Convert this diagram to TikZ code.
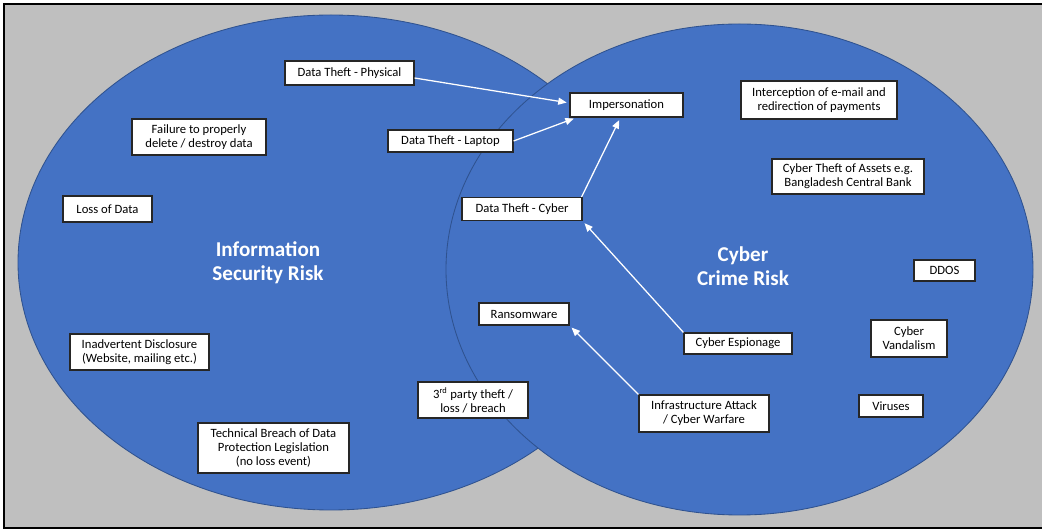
\documentclass[tikz,border=0pt]{standalone}
\usepackage{fontspec}
\setmainfont{Carlito}
\usepackage{tikz}
\usetikzlibrary{arrows.meta, positioning}
\definecolor{setblue}{HTML}{4472C4}
\definecolor{setline}{HTML}{2F528F}
\definecolor{framegray}{HTML}{BFBFBF}
\newcommand{\pxu}{0.025cm}

\begin{document}
\begin{tikzpicture}[x=0.025cm, y=-0.025cm,
    riskbox/.style={draw=black!85, line width=0.8pt, fill=white, align=center, inner sep=0pt, font=\fontsize{9}{9.8}\selectfont},
    setlabel/.style={text=white, align=center, font=\fontsize{15}{17}\selectfont\bfseries},
    link/.style={draw=white, line width=0.9pt, -{Triangle[length=6pt, width=5pt]}, shorten >=2pt}]
    \useasboundingbox (0,0) rectangle (1042,530);

    % Frame
    \fill[framegray] (4,4) rectangle (1042,528);
    \draw[black, line width=0.9pt] (1042,4) -- (4,4) -- (4,528) -- (1042,528);

    % Information security set
    \draw[setline, fill=setblue, line width=0.6pt] (331,262.5) ellipse (313 and 247.5);
    \node[setlabel] (infosec) at (268,263) {Information\\Security Risk};

    % Cyber crime set
    \draw[setline, fill=setblue, line width=0.6pt] (739.5,269.5) ellipse (293.5 and 245.5);
    \node[setlabel] (cybercrime) at (743,266) {Cyber\\Crime Risk};

    % Risks
    \node[riskbox, minimum width=129*\pxu, minimum height=24*\pxu] (physical) at (349.5,73) {Data Theft - Physical};
    \node[riskbox, minimum width=134*\pxu, minimum height=36*\pxu] (failure) at (199,137) {Failure to properly\\delete / destroy data};
    \node[riskbox, minimum width=125*\pxu, minimum height=22*\pxu] (laptop) at (450.5,141) {Data Theft - Laptop};
    \node[riskbox, minimum width=89*\pxu, minimum height=26*\pxu] (lossdata) at (107.5,209) {Loss of Data};
    \node[riskbox, minimum width=120*\pxu, minimum height=23*\pxu] (cybertheft) at (522,209) {Data Theft - Cyber};
    \node[riskbox, minimum width=113*\pxu, minimum height=24*\pxu] (imper) at (626.5,105) {Impersonation};
    \node[riskbox, minimum width=156*\pxu, minimum height=38*\pxu] (intercept) at (819,100) {Interception of e-mail and\\redirection of payments};
    \node[riskbox, minimum width=152*\pxu, minimum height=35*\pxu] (assets) at (848,176.5) {Cyber Theft of Assets e.g.\\Bangladesh Central Bank};
    \node[riskbox, minimum width=61*\pxu, minimum height=21*\pxu] (ddos) at (944.5,270.5) {DDOS};
    \node[riskbox, minimum width=90*\pxu, minimum height=22*\pxu] (ransom) at (524,314) {Ransomware};
    \node[riskbox, minimum width=108*\pxu, minimum height=21*\pxu] (espionage) at (738,343.5) {Cyber Espionage};
    \node[riskbox, minimum width=76*\pxu, minimum height=37*\pxu] (vandal) at (909,338.5) {Cyber\\Vandalism};
    \node[riskbox, minimum width=64*\pxu, minimum height=22*\pxu] (viruses) at (891,406) {Viruses};
    \node[riskbox, minimum width=130*\pxu, minimum height=37*\pxu] (infra) at (704,413.5) {Infrastructure Attack\\/ Cyber Warfare};
    \node[riskbox, minimum width=139*\pxu, minimum height=36*\pxu] (disclose) at (139.5,352) {Inadvertent Disclosure\\(Website, mailing etc.)};
    \node[riskbox, minimum width=110*\pxu, minimum height=36*\pxu] (thirdparty) at (473,400) {3\textsuperscript{rd} party theft /\\loss / breach};
    \node[riskbox, minimum width=151*\pxu, minimum height=50*\pxu] (technical) at (273.5,448) {Technical Breach of Data\\Protection Legislation\\(no loss event)};

    % Links
    \draw[link] ([yshift=-5*\pxu]physical.east) -- ([yshift=2*\pxu]imper.west);
    \draw[link] (laptop.east) -- ([xshift=7*\pxu]imper.south west);
    \draw[link] ([xshift=-1*\pxu]cybertheft.north east) -- ([xshift=-6*\pxu]imper.south);
    \draw[link] (espionage.north west) -- (cybertheft.south east);
    \draw[link] (infra.north west) -- (ransom.south east);
\end{tikzpicture}
\end{document}
